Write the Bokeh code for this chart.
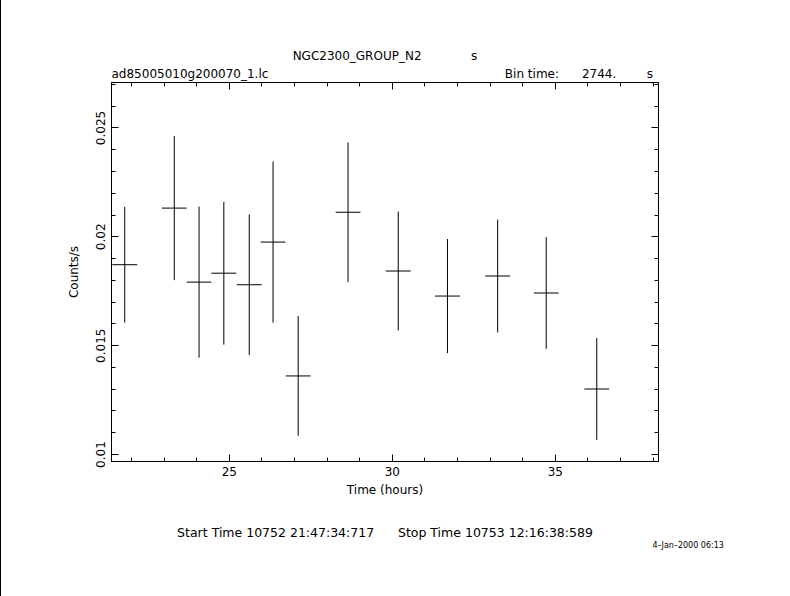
import numpy as np
from bokeh.plotting import figure
from bokeh.models import (ColumnDataSource, FixedTicker, LinearAxis, Title, Range1d)
from bokeh.embed import file_html
from bokeh.resources import INLINE

# ---- data ----
time_hours = [21.79, 23.31, 24.07, 24.83, 25.61, 26.34, 27.11, 28.64, 30.18, 31.69, 33.23, 34.72, 36.27]
rate = [0.01872, 0.02132, 0.01792, 0.01833, 0.01780, 0.01976, 0.01361, 0.02113, 0.01843, 0.01728, 0.01820, 0.01742, 0.01301]
rate_err = [0.00266, 0.00331, 0.00347, 0.00328, 0.00323, 0.00370, 0.00275, 0.00321, 0.00273, 0.00262, 0.00259, 0.00257, 0.00234]
bin_time_s = 2744.0

x_major = [25, 30, 35]
x_minor = list(range(22, 39))
y_major = [0.01, 0.015, 0.02, 0.025]
y_major_labels = ["0.01", "0.015", "0.02", "0.025"]
y_minor = [round(0.010 + 0.001 * i, 3) for i in range(0, 18)]

NB = "\u00a0"
title_line = "NGC2300_GROUP_N2" + NB * 13 + "s"
header_line = "ad85005010g200070_1.lc" + NB * 62 + "Bin" + NB + "time:" + NB * 6 + "2744." + NB * 8 + "s"
start_stop = "Start Time 10752 21:47:34:717" + NB * 6 + "Stop Time 10753 12:16:38:589"
date_text = "4\u2013Jan\u20132000 06:13"

# ---- derived ----
t = np.array(time_hours)
r = np.array(rate)
e = np.array(rate_err)
half = bin_time_s / 3600.0 / 2.0
src = ColumnDataSource(dict(x=t, y=r, lo=r - e, hi=r + e, xl=t - half, xr=t + half))

FONT = "DejaVu Sans"

p = figure(width=789, height=596, output_backend="svg", toolbar_location=None,
           x_range=Range1d(21.384, 38.164), y_range=Range1d(0.00968, 0.02709),
           min_border_left=110, min_border_right=132, min_border_top=82, min_border_bottom=135)
p.styles = {"border-left": "1px solid black"}
p.background_fill_color = "white"
p.border_fill_color = "white"
p.outline_line_color = "black"
p.outline_line_width = 1
p.xgrid.visible = False
p.ygrid.visible = False

p.segment(x0="x", y0="lo", x1="x", y1="hi", source=src, line_color="black", line_width=1)
p.segment(x0="xl", y0="y", x1="xr", y1="y", source=src, line_color="black", line_width=1)

def style(ax):
    ax.axis_line_color = "black"
    ax.major_tick_in = 7
    ax.major_tick_out = 0
    ax.minor_tick_in = 4
    ax.minor_tick_out = 0
    ax.major_tick_line_color = "black"
    ax.minor_tick_line_color = "black"
    ax.major_label_text_font = FONT
    ax.major_label_text_font_size = "12px"
    ax.major_label_text_color = "black"
    ax.axis_label_text_font = FONT
    ax.axis_label_text_font_size = "12px"
    ax.axis_label_text_font_style = "normal"
    ax.axis_label_text_color = "black"

xax = p.xaxis[0]
xax.ticker = FixedTicker(ticks=x_major, minor_ticks=x_minor)
xax.axis_label = "Time (hours)"
style(xax)
xax.major_label_standoff = 5
xax.axis_label_standoff = 4

yax = p.yaxis[0]
yax.ticker = FixedTicker(ticks=y_major, minor_ticks=y_minor)
yax.major_label_overrides = {v: s for v, s in zip(y_major, y_major_labels)}
yax.major_label_orientation = "vertical"
yax.axis_label = "Counts/s"
style(yax)
yax.major_label_standoff = 6
yax.axis_label_standoff = 13

top = LinearAxis(ticker=FixedTicker(ticks=x_major, minor_ticks=x_minor))
style(top)
top.major_label_overrides = {v: "" for v in x_major}
p.add_layout(top, "above")
right = LinearAxis(ticker=FixedTicker(ticks=y_major, minor_ticks=y_minor))
style(right)
right.major_label_overrides = {v: "" for v in y_major}
p.add_layout(right, "right")

def title(txt, where, align, size, standoff, offset=0, valign="bottom"):
    p.add_layout(Title(text=txt, align=align, text_font=FONT, text_font_size=size,
                       text_font_style="normal", text_color="black", vertical_align=valign,
                       standoff=standoff, offset=offset), where)

title(header_line, "above", "left", "12px", 3)
title(title_line, "above", "center", "12px", 2)
title(start_stop, "below", "center", "12.5px", 45.5)
title(date_text, "below", "left", "8px", -43, offset=541, valign="top")

open("out.html", "w").write(file_html(p, INLINE))
